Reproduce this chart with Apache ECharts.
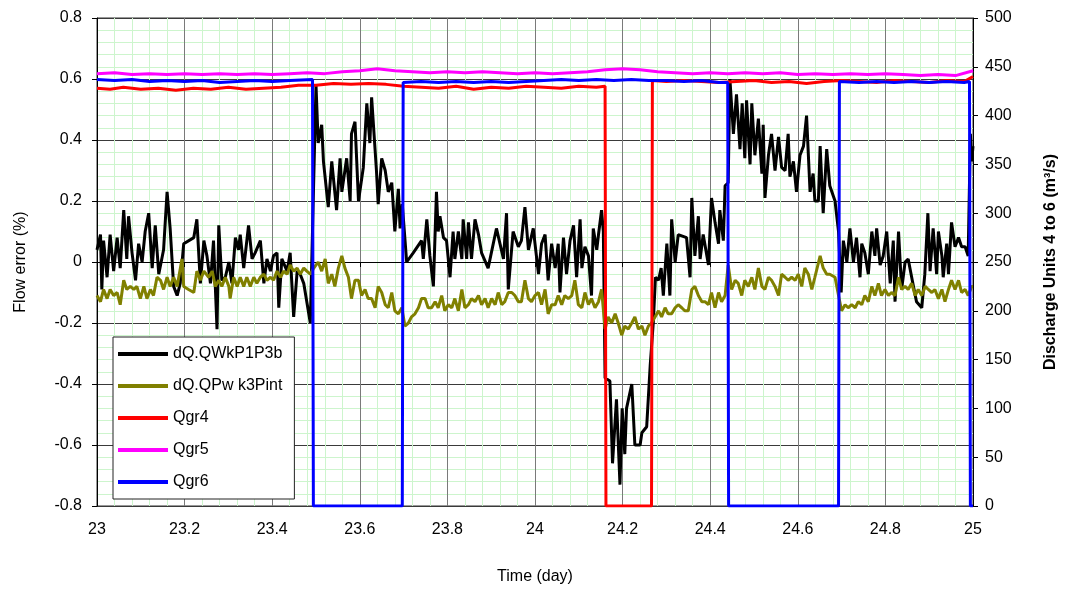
<!DOCTYPE html>
<html>
<head>
    <meta charset="utf-8">
    <title>Flow error</title>
    <script src="https://cdn.jsdelivr.net/npm/echarts@6/dist/echarts.min.js"></script>
    <style>
        html, body { margin: 0; padding: 0; background: #fff; overflow: hidden; }
        #chart1 { width: 1067px; height: 590px; }
    </style>
</head>
<body>
<div id="chart1"></div>
<script type="text/javascript">
    // 数据：[时间(天), 值]
    var xTicks = [23, 23.2, 23.4, 23.6, 23.8, 24, 24.2, 24.4, 24.6, 24.8, 25];
    var names = ['dQ.QWkP1P3b', 'dQ.QPw k3Pint', 'Qgr4', 'Qgr5', 'Qgr6'];

    var dqWk = [
        [23.000,0.04],[23.008,0.09],[23.011,-0.09],[23.015,0.07],[23.023,-0.05],[23.030,0.09],[23.038,-0.03],[23.046,0.08],
        [23.053,-0.02],[23.061,0.17],[23.068,0.01],[23.072,0.15],[23.080,0.03],[23.088,-0.06],[23.095,0.06],[23.103,0.00],
        [23.110,0.10],[23.118,0.16],[23.126,-0.02],[23.133,0.12],[23.141,-0.04],[23.152,0.04],[23.160,0.23],[23.167,0.11],
        [23.175,-0.08],[23.183,-0.11],[23.190,-0.07],[23.198,0.06],[23.221,0.08],[23.228,0.14],[23.236,-0.07],[23.244,0.07],
        [23.251,0.02],[23.259,-0.07],[23.266,0.07],[23.274,-0.22],[23.278,0.12],[23.285,-0.06],[23.293,-0.05],[23.301,0.00],
        [23.308,-0.07],[23.316,0.08],[23.323,0.04],[23.327,0.09],[23.335,-0.02],[23.346,0.12],[23.354,0.01],[23.361,0.03],
        [23.373,0.07],[23.381,-0.07],[23.388,0.01],[23.396,-0.03],[23.403,0.02],[23.411,0.03],[23.415,-0.15],[23.422,0.01],
        [23.434,-0.03],[23.441,0.03],[23.449,-0.18],[23.457,-0.03],[23.464,-0.04],[23.472,-0.07],[23.487,-0.20],[23.500,0.58],
        [23.505,0.39],[23.513,0.45],[23.517,0.33],[23.528,0.18],[23.536,0.33],[23.547,0.17],[23.555,0.34],[23.559,0.23],
        [23.570,0.34],[23.578,0.20],[23.581,0.42],[23.589,0.46],[23.597,0.20],[23.608,0.31],[23.616,0.52],[23.623,0.39],
        [23.627,0.54],[23.638,0.30],[23.642,0.19],[23.650,0.34],[23.658,0.30],[23.665,0.23],[23.673,0.26],[23.680,0.10],
        [23.688,0.24],[23.692,0.11],[23.697,0.19],[23.707,0.00],[23.722,0.03],[23.741,0.07],[23.745,0.01],[23.753,0.14],
        [23.760,0.02],[23.768,-0.08],[23.775,0.23],[23.779,0.10],[23.783,0.15],[23.791,0.08],[23.798,0.07],[23.806,-0.05],
        [23.813,0.10],[23.817,0.01],[23.825,0.10],[23.833,0.01],[23.836,0.14],[23.844,0.01],[23.848,0.13],[23.855,0.01],
        [23.863,0.14],[23.871,0.09],[23.878,0.03],[23.893,-0.02],[23.912,0.11],[23.928,0.01],[23.935,0.16],[23.939,-0.09],
        [23.950,0.10],[23.962,0.05],[23.969,0.07],[23.977,0.18],[23.985,0.04],[23.996,0.11],
        [24.008,-0.04],[24.015,0.06],[24.023,0.09],[24.030,-0.06],[24.038,0.06],[24.046,-0.02],[24.053,0.06],[24.057,-0.10],
        [24.065,0.08],[24.072,-0.04],[24.080,0.07],[24.088,0.12],[24.095,-0.05],[24.103,0.14],[24.107,-0.02],[24.114,0.05],
        [24.122,0.02],[24.129,-0.11],[24.133,0.11],[24.141,0.04],[24.145,0.09],[24.152,0.17],[24.156,0.10],[24.160,-0.38],
        [24.171,-0.39],[24.177,-0.66],[24.186,-0.45],[24.194,-0.73],[24.199,-0.48],[24.205,-0.63],[24.209,-0.48],[24.221,-0.40],
        [24.228,-0.60],[24.240,-0.60],[24.244,-0.56],[24.255,-0.54],[24.263,-0.34],[24.270,-0.20],[24.275,-0.05],[24.282,-0.06],
        [24.288,-0.02],[24.293,-0.11],[24.301,0.06],[24.308,-0.11],[24.312,0.14],[24.320,0.00],[24.327,0.09],[24.346,0.08],
        [24.354,-0.05],[24.358,0.21],[24.365,0.02],[24.373,0.15],[24.377,0.01],[24.384,0.09],[24.396,-0.01],[24.403,0.21],
        [24.411,0.13],[24.419,0.06],[24.422,0.17],[24.430,0.07],[24.434,0.25],[24.441,0.26],[24.445,0.60],[24.453,0.42],
        [24.460,0.55],[24.468,0.37],[24.473,0.52],[24.479,0.34],[24.483,0.53],[24.491,0.32],[24.495,0.52],[24.502,0.35],
        [24.510,0.47],[24.518,0.29],[24.521,0.45],[24.525,0.21],[24.533,0.35],[24.540,0.42],[24.548,0.30],[24.556,0.41],
        [24.563,0.31],[24.571,0.30],[24.578,0.42],[24.582,0.28],[24.590,0.33],[24.597,0.23],[24.605,0.35],[24.613,0.38],
        [24.620,0.48],[24.628,0.23],[24.635,0.29],[24.639,0.20],[24.647,0.20],[24.651,0.38],[24.658,0.16],[24.666,0.37],
        [24.673,0.25],[24.685,0.20],[24.693,0.10],[24.699,-0.10],[24.704,0.07],[24.712,0.00],[24.719,0.11],[24.727,0.00],
        [24.734,0.08],[24.742,-0.05],[24.746,0.06],[24.753,0.03],[24.761,-0.04],[24.769,0.10],[24.776,0.02],[24.780,0.11],
        [24.788,-0.01],[24.795,0.02],[24.803,0.10],[24.811,-0.07],[24.818,0.07],[24.822,-0.13],[24.830,0.10],[24.837,-0.09],
        [24.845,0.00],[24.852,0.01],[24.860,-0.05],[24.864,-0.08],[24.871,-0.13],[24.883,-0.15],[24.890,-0.04],[24.897,0.16],
        [24.902,-0.03],[24.909,0.11],[24.917,-0.04],[24.921,0.10],[24.929,0.02],[24.932,-0.05],[24.940,0.06],[24.944,-0.04],
        [24.951,0.13],[24.959,0.05],[24.967,0.08],[24.974,0.05],[24.982,0.05],[24.989,0.02],[24.994,0.42],[24.997,0.33],
        [25.000,0.38]
    ];

    var dqPw = [
        [23.000,-0.11],[23.008,-0.13],[23.015,-0.09],[23.023,-0.12],[23.030,-0.09],[23.038,-0.11],[23.046,-0.10],[23.053,-0.14],
        [23.061,-0.06],[23.068,-0.09],[23.076,-0.08],[23.084,-0.09],[23.091,-0.08],[23.099,-0.12],[23.107,-0.08],[23.114,-0.12],
        [23.122,-0.09],[23.129,-0.11],[23.137,-0.05],[23.145,-0.06],[23.152,-0.09],[23.160,-0.05],[23.167,-0.08],[23.175,-0.05],
        [23.183,-0.08],[23.194,0.01],[23.198,-0.08],[23.209,-0.09],[23.221,-0.10],[23.228,-0.03],[23.236,-0.06],[23.244,-0.03],
        [23.255,-0.05],[23.263,-0.03],[23.270,-0.08],[23.278,-0.06],[23.285,-0.08],[23.293,-0.05],[23.301,-0.08],[23.304,-0.12],
        [23.312,-0.05],[23.320,-0.08],[23.327,-0.05],[23.335,-0.08],[23.342,-0.05],[23.350,-0.08],[23.358,-0.05],[23.365,-0.07],
        [23.373,-0.05],[23.381,-0.04],[23.388,-0.06],[23.396,-0.05],[23.403,-0.06],[23.411,-0.03],[23.419,-0.05],[23.426,-0.03],
        [23.434,-0.04],[23.441,-0.01],[23.449,-0.03],[23.457,-0.02],[23.464,-0.04],[23.472,-0.02],[23.479,-0.03],[23.487,-0.04],
        [23.495,-0.02],[23.505,0.00],[23.513,-0.03],[23.521,0.01],[23.528,-0.07],[23.536,-0.04],[23.543,-0.08],[23.551,-0.02],
        [23.559,0.02],[23.566,-0.02],[23.574,-0.05],[23.581,-0.12],[23.589,-0.06],[23.597,-0.06],[23.604,-0.11],[23.612,-0.09],
        [23.619,-0.12],[23.627,-0.12],[23.635,-0.15],[23.642,-0.08],[23.650,-0.10],[23.658,-0.14],[23.665,-0.15],[23.673,-0.10],
        [23.680,-0.16],[23.688,-0.17],[23.696,-0.15],[23.703,-0.21],[23.711,-0.20],[23.718,-0.18],[23.726,-0.17],[23.734,-0.15],
        [23.741,-0.12],[23.749,-0.12],[23.756,-0.15],[23.764,-0.15],[23.772,-0.13],[23.779,-0.15],[23.787,-0.11],[23.794,-0.16],
        [23.802,-0.14],[23.810,-0.15],[23.817,-0.12],[23.825,-0.16],[23.833,-0.09],[23.840,-0.15],[23.848,-0.14],[23.855,-0.12],
        [23.863,-0.13],[23.871,-0.11],[23.878,-0.14],[23.886,-0.12],[23.893,-0.15],[23.901,-0.12],[23.909,-0.14],[23.916,-0.10],
        [23.924,-0.14],[23.931,-0.13],[23.939,-0.10],[23.947,-0.10],[23.954,-0.11],[23.962,-0.13],[23.969,-0.13],[23.977,-0.06],
        [23.985,-0.12],[23.992,-0.13],
        [24.000,-0.11],[24.008,-0.10],[24.015,-0.14],[24.023,-0.09],[24.030,-0.17],[24.038,-0.14],[24.046,-0.14],[24.053,-0.11],
        [24.061,-0.14],[24.068,-0.11],[24.076,-0.12],[24.084,-0.11],[24.091,-0.06],[24.099,-0.14],[24.107,-0.15],[24.114,-0.10],
        [24.122,-0.14],[24.129,-0.12],[24.137,-0.15],[24.145,-0.13],[24.152,-0.09],[24.160,-0.22],[24.167,-0.18],[24.175,-0.20],
        [24.183,-0.17],[24.190,-0.20],[24.198,-0.24],[24.205,-0.21],[24.213,-0.22],[24.221,-0.20],[24.228,-0.18],[24.236,-0.22],
        [24.244,-0.21],[24.251,-0.24],[24.259,-0.21],[24.266,-0.20],[24.274,-0.18],[24.282,-0.16],[24.289,-0.18],[24.297,-0.15],
        [24.304,-0.17],[24.312,-0.17],[24.320,-0.15],[24.327,-0.14],[24.335,-0.15],[24.342,-0.16],[24.350,-0.16],[24.358,-0.09],
        [24.365,-0.08],[24.373,-0.11],[24.381,-0.13],[24.388,-0.13],[24.396,-0.14],[24.403,-0.10],[24.411,-0.15],[24.419,-0.10],
        [24.426,-0.13],[24.434,-0.11],[24.441,-0.01],[24.449,-0.09],[24.457,-0.06],[24.464,-0.07],[24.472,-0.11],[24.479,-0.06],
        [24.487,-0.08],[24.495,-0.05],
        [24.502,-0.09],[24.510,-0.02],[24.518,-0.08],[24.525,-0.09],[24.533,-0.05],[24.540,-0.06],[24.548,-0.08],[24.556,-0.11],
        [24.563,-0.04],[24.571,-0.05],[24.578,-0.06],[24.586,-0.05],[24.594,-0.06],[24.601,-0.04],[24.609,-0.08],[24.616,-0.02],
        [24.624,-0.04],[24.632,-0.09],[24.639,-0.05],[24.651,0.02],[24.658,-0.02],[24.666,-0.04],[24.673,-0.04],[24.685,-0.05],
        [24.693,-0.11],[24.700,-0.16],[24.708,-0.14],[24.715,-0.15],[24.723,-0.14],[24.731,-0.15],[24.738,-0.13],[24.746,-0.14],
        [24.753,-0.11],[24.761,-0.13],[24.769,-0.08],[24.776,-0.11],[24.784,-0.07],[24.791,-0.11],[24.799,-0.09],[24.807,-0.11],
        [24.814,-0.10],[24.822,-0.11],[24.830,-0.05],[24.837,-0.09],[24.845,-0.08],[24.852,-0.09],[24.860,-0.07],[24.868,-0.11],
        [24.875,-0.09],[24.883,-0.11],[24.891,-0.08],[24.898,-0.09],[24.906,-0.10],[24.913,-0.09],[24.921,-0.12],[24.929,-0.09],
        [24.936,-0.13],[24.944,-0.09],[24.951,-0.06],[24.959,-0.09],[24.967,-0.06],[24.974,-0.10],[24.982,-0.09],[24.989,-0.11],
        [24.997,-0.08],[25.000,-0.08]
    ];

    var qgr4 = [
        [23.00,428],[23.03,427],[23.06,429],[23.10,427],[23.14,428],[23.18,426],[23.22,428],[23.26,427],[23.30,429],[23.34,427],
        [23.38,428],[23.42,429],[23.46,431],[23.50,431],[23.54,433],[23.58,432],[23.62,433],[23.66,432],[23.70,430],[23.74,429],
        [23.78,428],[23.82,430],[23.86,427],[23.90,429],[23.94,428],[23.98,430],[24.02,429],[24.06,428],[24.10,430],[24.14,429],
        [24.160,430],[24.162,0],[24.266,0],[24.268,436],[24.30,435],[24.34,436],[24.38,435],[24.42,434],[24.46,435],[24.50,436],
        [24.54,434],[24.58,435],[24.62,433],[24.66,435],[24.70,436],[24.74,435],[24.78,434],[24.82,436],[24.86,435],[24.90,434],
        [24.94,436],[24.98,435],[25.00,440]
    ];

    var qgr5 = [
        [23.00,443],[23.04,444],[23.08,442],[23.12,443],[23.16,442],[23.20,443],[23.24,442],[23.28,443],[23.32,442],[23.36,443],
        [23.40,442],[23.44,443],[23.48,444],[23.52,443],[23.56,445],[23.60,446],[23.64,448],[23.68,446],[23.72,445],[23.76,444],
        [23.80,445],[23.84,444],[23.88,445],[23.92,444],[23.96,443],[24.00,444],[24.04,443],[24.08,444],[24.12,445],[24.16,447],
        [24.20,448],[24.24,447],[24.28,445],[24.32,444],[24.36,443],[24.40,444],[24.44,443],[24.48,444],[24.52,443],[24.56,444],
        [24.60,442],[24.64,443],[24.68,442],[24.72,443],[24.76,442],[24.80,443],[24.84,442],[24.88,441],[24.92,442],[24.96,441],
        [25.00,446]
    ];

    var qgr6 = [
        [23.00,437],[23.04,436],[23.08,437],[23.12,435],[23.16,436],[23.20,435],[23.24,436],[23.28,434],[23.32,435],[23.36,436],
        [23.40,435],[23.44,436],[23.492,437],[23.494,0],[23.697,0],[23.699,434],[23.74,435],[23.78,434],[23.82,435],[23.86,434],
        [23.90,435],[23.94,434],[23.98,435],[24.02,436],[24.06,437],[24.10,436],[24.14,437],[24.18,436],[24.22,437],[24.26,436],
        [24.30,436],[24.34,435],[24.38,436],[24.42,434],[24.440,434],[24.442,0],[24.693,0],[24.695,435],[24.74,434],[24.78,435],
        [24.82,434],[24.86,435],[24.90,434],[24.94,435],[24.98,434],[24.992,435],[24.994,0],[25.00,0]
    ];

    var font = 'Liberation Sans, Arial, sans-serif';
    var fmt1 = function (v) { return String(+v.toFixed(1)); };

    var myChart = echarts.init(document.getElementById('chart1'));
    myChart.setOption({
        animation: false,
        backgroundColor: '#fff',
        textStyle: { fontFamily: font, color: '#000' },
        grid: { left: 97, right: 88, top: 18, bottom: 80, show: true, borderColor: '#333', borderWidth: 1 },
        legend: {
            data: names,
            orient: 'vertical',
            left: 113,
            top: 337,
            icon: 'rect',
            itemWidth: 50,
            itemHeight: 4,
            itemGap: 14,
            padding: [8, 12, 8, 5],
            backgroundColor: '#fff',
            borderColor: '#222',
            borderWidth: 1,
            textStyle: { fontFamily: font, fontSize: 16, color: '#000', lineHeight: 18 }
        },
        xAxis: {
            type: 'value',
            min: xTicks[0],
            max: xTicks[xTicks.length - 1],
            interval: 0.2,
            name: 'Time (day)',
            nameLocation: 'middle',
            nameGap: 63,
            nameTextStyle: { fontSize: 16, fontFamily: font, color: '#000' },
            axisLine: { lineStyle: { color: '#000' } },
            axisTick: { length: 5, lineStyle: { color: '#000' } },
            axisLabel: { fontSize: 16, color: '#000', margin: 16, formatter: fmt1 },
            splitLine: { show: true, lineStyle: { color: '#7a7a7a', width: 1 } },
            minorTick: { show: false, splitNumber: 5 },
            minorSplitLine: { show: true, lineStyle: { color: '#cdf5cd', width: 1 } }
        },
        yAxis: [{
            type: 'value',
            position: 'left',
            min: -0.8,
            max: 0.8,
            interval: 0.2,
            name: 'Flow error (%)',
            nameLocation: 'middle',
            nameRotate: 90,
            nameGap: 68,
            nameTextStyle: { fontSize: 16, fontFamily: font, color: '#000' },
            axisLine: { show: true, lineStyle: { color: '#000' } },
            axisTick: { show: true, length: 5, lineStyle: { color: '#000' } },
            axisLabel: { fontSize: 16, color: '#000', margin: 15, formatter: fmt1 },
            splitLine: { show: true, lineStyle: { color: '#3a3a3a', width: 1 } },
            minorTick: { show: false, splitNumber: 5 },
            minorSplitLine: { show: true, lineStyle: { color: '#cdf5cd', width: 1 } }
        }, {
            type: 'value',
            position: 'right',
            min: 0,
            max: 500,
            interval: 50,
            name: 'Discharge Units 4 to 6 (m³/s)',
            nameLocation: 'middle',
            nameRotate: 90,
            nameGap: 70,
            nameTextStyle: { fontSize: 16, fontWeight: 'bold', fontFamily: font, color: '#000' },
            axisLine: { show: true, lineStyle: { color: '#000' } },
            axisTick: { show: true, length: 5, lineStyle: { color: '#000' } },
            axisLabel: { fontSize: 16, color: '#000', margin: 12 },
            splitLine: { show: false }
        }],
        series: [
            { name: names[0], type: 'line', yAxisIndex: 0, data: dqWk, symbol: 'none', color: '#000000', lineStyle: { width: 3 } },
            { name: names[1], type: 'line', yAxisIndex: 0, data: dqPw, symbol: 'none', color: '#808000', lineStyle: { width: 3 } },
            { name: names[2], type: 'line', yAxisIndex: 1, data: qgr4, symbol: 'none', color: '#ff0000', lineStyle: { width: 3 } },
            { name: names[3], type: 'line', yAxisIndex: 1, data: qgr5, symbol: 'none', color: '#ff00ff', lineStyle: { width: 3 } },
            { name: names[4], type: 'line', yAxisIndex: 1, data: qgr6, symbol: 'none', color: '#0000ff', lineStyle: { width: 3 } }
        ]
    });
</script>
</body>
</html>
